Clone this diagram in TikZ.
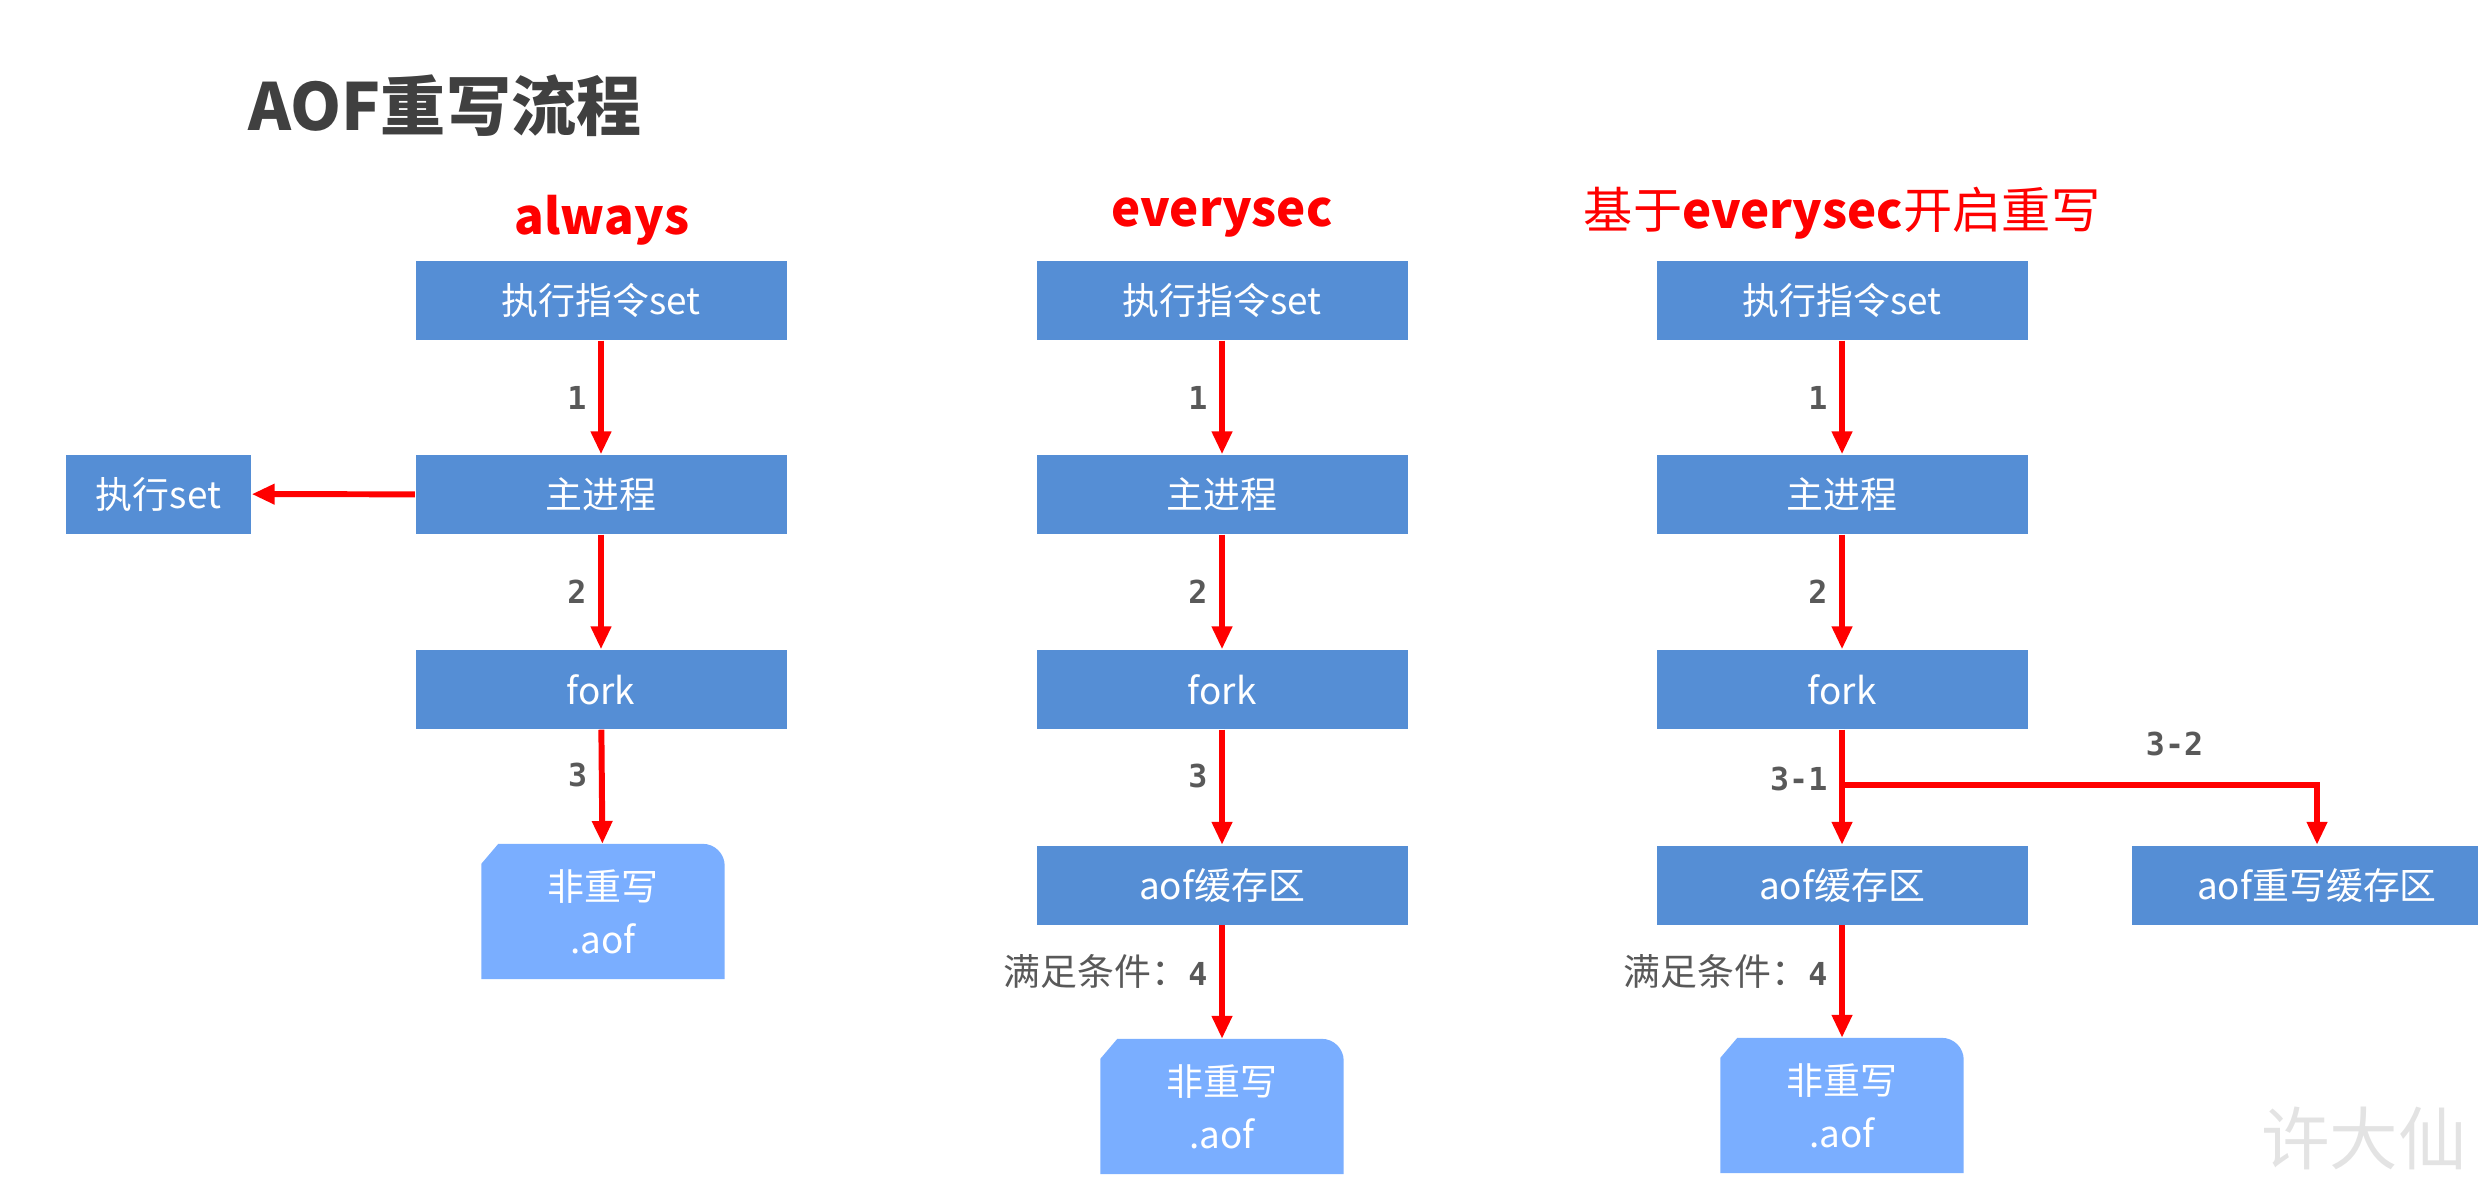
\documentclass[tikz,border=0pt]{standalone}
\usepackage{fontspec}
\setmainfont{Noto Sans CJK SC}
\setmonofont{DejaVu Sans Mono}
\usetikzlibrary{arrows.meta,calc,backgrounds}
\definecolor{boxblue}{RGB}{85,142,213}
\definecolor{docblue}{RGB}{122,174,255}
\definecolor{lblgray}{RGB}{89,89,89}
\definecolor{titlegray}{RGB}{64,64,64}
\tikzset{
  stepbox/.style={fill=boxblue,text=white,minimum width=3.71cm,minimum height=0.79cm,inner sep=0pt,font=\fontsize{10.5}{12}\selectfont},
  filebox/.style={text=white,minimum width=2.42cm,minimum height=1.34cm,inner sep=0pt,align=center,font=\fontsize{10.5}{15}\selectfont},
  flow/.style={red,line width=1.7pt,-{Triangle[length=6.5pt,width=5.5pt]}},
  lbl/.style={text=lblgray,font=\ttfamily\bfseries\fontsize{9}{10}\selectfont},
  mode/.style={text=red,font=\fontsize{14}{16}\selectfont}
}

\begin{document}
\begin{tikzpicture}
  \useasboundingbox (0,0) rectangle (24.78,-11.91);
  \node[anchor=west,text=titlegray,font=\bfseries\fontsize{18.5}{22}\selectfont] (title) at (2.36,-1.06) {AOF重写流程};

  % always
  \node[mode] (t1) at (6.02,-2.2) {\bfseries always};
  \node[stepbox] (a1) at (6.01,-3.005) {执行指令set};
  \node[stepbox] (a2) at (6.01,-4.945) {主进程};
  \node[stepbox] (a3) at (6.01,-6.895) {fork};
  \node[filebox] (af) at (6.03,-9.115) {非重写\\.aof};
  \node[stepbox,minimum width=1.85cm] (ax) at (1.585,-4.94) {执行set};
  \draw[flow] (a1) -- node[lbl,left,pos=0.5]{1} (a2);
  \draw[flow] (a2) -- node[lbl,left,pos=0.5]{2} (a3);
  \draw[flow] (a3) -- node[lbl,left,pos=0.4]{3} (af);
  \draw[flow] (a2) -- (ax);

  % everysec
  \node[mode] (t2) at (12.22,-2.18) {\bfseries everysec};
  \node[stepbox] (b1) at (12.22,-3.005) {执行指令set};
  \node[stepbox] (b2) at (12.22,-4.945) {主进程};
  \node[stepbox] (b3) at (12.22,-6.895) {fork};
  \node[stepbox] (b4) at (12.22,-8.85) {aof缓存区};
  \node[filebox] (bf) at (12.22,-11.065) {非重写\\.aof};
  \draw[flow] (b1) -- node[lbl,left,pos=0.5]{1} (b2);
  \draw[flow] (b2) -- node[lbl,left,pos=0.5]{2} (b3);
  \draw[flow] (b3) -- node[lbl,left,pos=0.4]{3} (b4);
  \draw[flow] (b4) -- node[lbl,left,pos=0.41]{{\rmfamily\mdseries\fontsize{10.5}{12}\selectfont 满足条件：}4} (bf);

  % everysec + rewrite
  \node[mode] (t3) at (18.42,-2.13) {基于\textbf{everysec}开启重写};
  \node[stepbox] (c1) at (18.42,-3.005) {执行指令set};
  \node[stepbox] (c2) at (18.42,-4.945) {主进程};
  \node[stepbox] (c3) at (18.42,-6.895) {fork};
  \node[stepbox] (c4) at (18.42,-8.85) {aof缓存区};
  \node[stepbox] (c5) at (23.17,-8.85) {aof重写缓存区};
  \node[filebox] (cf) at (18.42,-11.055) {非重写\\.aof};
  \coordinate (cj) at (18.42,-7.85);
  \draw[flow] (c1) -- node[lbl,left,pos=0.5]{1} (c2);
  \draw[flow] (c2) -- node[lbl,left,pos=0.5]{2} (c3);
  \draw[flow] (c3) -- node[lbl,left,pos=0.43]{3-1} (c4);
  \draw[flow] (cj) -| node[lbl,above=4pt,pos=0.35]{3-2} (c5);
  \draw[flow] (c4) -- node[lbl,left,pos=0.41]{{\rmfamily\mdseries\fontsize{10.5}{12}\selectfont 满足条件：}4} (cf);

  \node[text=gray!22,font=\fontsize{19.5}{20}\selectfont] (wm) at (23.64,-11.38) {许大仙};

  \begin{pgfonlayer}{background}
    \foreach \d in {af,bf,cf}{
      \fill[docblue] ($(\d.north west)+(0,-0.2)$) -- ($(\d.north west)+(0.17,0)$)
        -- ($(\d.north east)+(-0.22,0)$) arc[start angle=90,end angle=0,radius=0.22]
        -- (\d.south east) -- (\d.south west) -- cycle;
    }
  \end{pgfonlayer}
\end{tikzpicture}
\end{document}
